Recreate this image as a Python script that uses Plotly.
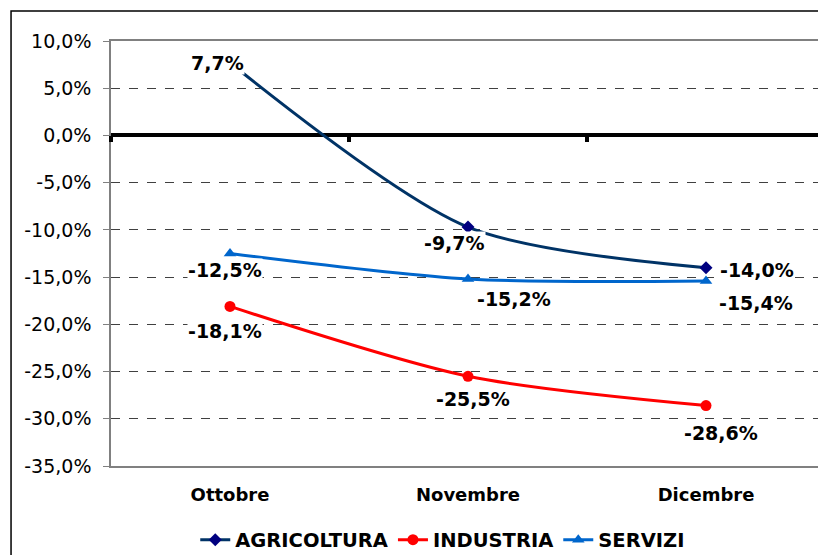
import plotly.graph_objects as go

months = ["Ottobre", "Novembre", "Dicembre"]
agricoltura = [7.7, -9.7, -14.0]
industria = [-18.1, -25.5, -28.6]
servizi = [-12.5, -15.2, -15.4]
y_ticks = [10, 5, 0, -5, -10, -15, -20, -25, -30, -35]

def fmt(v):
    return f"{v:.1f}".replace(".", ",") + "%"

xs = list(range(len(months)))
fig = go.Figure()

series = [
    ("AGRICOLTURA", agricoltura, "#003366", "#000080", "diamond", 10),
    ("INDUSTRIA", industria, "#FF0000", "#FF0000", "circle", 11),
    ("SERVIZI", servizi, "#0066CC", "#0066CC", "triangle-up", 11),
]
for name, vals, lc, mc, sym, ms in series:
    fig.add_trace(go.Scatter(
        x=xs, y=vals, name=name, mode="lines+markers",
        line=dict(color=lc, width=3, shape="spline", smoothing=0.8),
        marker=dict(color=mc, symbol=sym, size=ms),
    ))

# label offsets in pixels (dx, dy) for each series/point
offsets = {
    "AGRICOLTURA": [(-13, 0), (-14, -16), (51, -2)],
    "INDUSTRIA": [(-5, -25), (5, -23), (15, -27)],
    "SERVIZI": [(-5, -16), (46, -20), (50, -22)],
}
for name, vals, *_ in series:
    for i, v in enumerate(vals):
        dx, dy = offsets[name][i]
        fig.add_annotation(x=xs[i], y=v, text=fmt(v), showarrow=False,
                           xshift=dx, yshift=dy, bgcolor="white", borderpad=0,
                           font=dict(family="DejaVu Sans", size=19, color="black", weight="bold"))

# outer frame
fig.add_shape(type="rect", xref="paper", yref="paper",
              x0=-0.14, y0=-0.4, x1=1.2, y1=1.0706,
              line=dict(color="black", width=1.5), layer="below")

# the page body adds an 8px offset, so the figure is 8px smaller
fig.update_layout(
    width=818, height=547,
    margin=dict(l=103, r=1, t=33, b=89, autoexpand=False),
    paper_bgcolor="white", plot_bgcolor="white",
    showlegend=True,
    legend=dict(orientation="h", x=0.118, xanchor="left", y=-0.174, yanchor="middle",
                font=dict(family="DejaVu Sans", size=19.5, color="black", weight="bold"),
                itemwidth=30, tracegroupgap=0, itemsizing="trace"),
    xaxis=dict(range=[-0.5, 2.5], tickvals=xs, ticktext=months, automargin=False,
               showgrid=False, zeroline=False, showline=True, linecolor="#808080",
               linewidth=1.5, ticks="", mirror=True, ticklabelstandoff=12,
               tickfont=dict(family="DejaVu Sans", size=18, color="black", weight="bold")),
    xaxis2=dict(range=[-0.5, 2.5], overlaying="x", anchor="free", position=35/45,
                tickvals=[-0.5, 0.5, 1.5, 2.5], ticks="outside", ticklen=6, tickwidth=4,
                tickcolor="black", showticklabels=False, showgrid=False, zeroline=False,
                showline=False, automargin=False),
    yaxis=dict(range=[-35, 10], tickvals=y_ticks, ticktext=[fmt(v) for v in y_ticks],
               automargin=False,
               showgrid=True, gridcolor="#404040", griddash="dash", gridwidth=1,
               zeroline=True, zerolinecolor="black", zerolinewidth=4,
               showline=True, linecolor="#808080", linewidth=1.5, mirror=True,
               ticks="outside", ticklen=6, tickcolor="#808080", ticklabelstandoff=8,
               tickfont=dict(family="DejaVu Sans", size=19, color="black")),
)
# invisible trace to activate xaxis2
fig.add_trace(go.Scatter(x=[0], y=[0], xaxis="x2", mode="markers",
                         marker=dict(opacity=0), showlegend=False, hoverinfo="skip"))

fig.write_html("out.html")
